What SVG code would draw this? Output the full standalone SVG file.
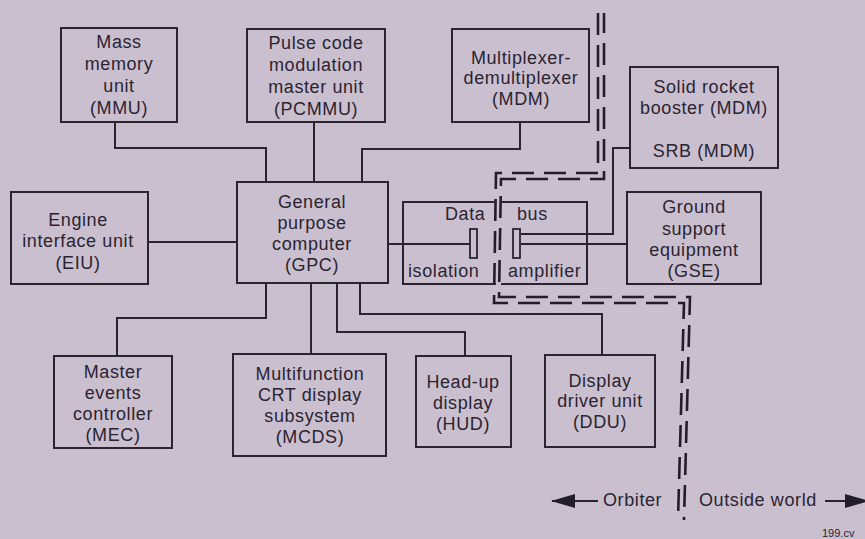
<svg xmlns="http://www.w3.org/2000/svg" width="865" height="539" viewBox="0 0 865 539">
<defs>
<style>
.bx{fill:none;stroke:#2a2430;stroke-width:2}
.ln{fill:none;stroke:#2a2430;stroke-width:2}
.bar{fill:none;stroke:#2a2430;stroke-width:1.8}
.dl{fill:none;stroke:#231d29;stroke-width:2.6;stroke-dasharray:22 10}
text{font-family:"Liberation Sans",Arial,sans-serif;font-size:18px;letter-spacing:0.6px;fill:#2a2430}
.c{text-anchor:middle}
.sm{font-size:11px;letter-spacing:0}
</style>
<marker id="ah" markerWidth="24" markerHeight="14" refX="23" refY="7" orient="auto" markerUnits="userSpaceOnUse">
<path d="M0,0 L24,7 L0,14 Z" fill="#231d29"/>
</marker>
</defs>
<rect width="865" height="539" fill="#cabfcf"/>

<g id="connectors">
<path class="ln" d="M115,122 V148 H266 V182"/>
<path class="ln" d="M314,122 V182"/>
<path class="ln" d="M362,182 V149 H520 V122"/>
<path class="ln" d="M148,242 H237"/>
<path class="ln" d="M388,244 H470"/>
<path class="ln" d="M521,234 H613 V148 H630"/>
<path class="ln" d="M521,244 H627"/>
<path class="ln" d="M266,283 V318 H117 V356"/>
<path class="ln" d="M311,283 V354"/>
<path class="ln" d="M337,283 V332 H465 V356"/>
<path class="ln" d="M360,283 V314 H602 V355"/>
</g>

<g id="boundary">
<path class="dl" d="M598,13 V173 H496 L494,303 H684 L678,520"/>
<path class="dl" style="stroke-dashoffset:2" d="M604,13 V179 H501 L499,297 H690 L684,520"/>
</g>

<g id="mmu">
<rect class="bx" x="61" y="28" width="116" height="94"/>
<text class="c" x="119" y="48">Mass</text>
<text class="c" x="119" y="70">memory</text>
<text class="c" x="119" y="92">unit</text>
<text class="c" x="119" y="114">(MMU)</text>
</g>

<g id="pcmmu">
<rect class="bx" x="247" y="29" width="138" height="93"/>
<text class="c" x="316" y="49">Pulse code</text>
<text class="c" x="316" y="71">modulation</text>
<text class="c" x="316" y="93">master unit</text>
<text class="c" x="316" y="115">(PCMMU)</text>
</g>

<g id="mdm">
<rect class="bx" x="452" y="29" width="137" height="93"/>
<text class="c" x="521" y="64">Multiplexer-</text>
<text class="c" x="521" y="84">demultiplexer</text>
<text class="c" x="521" y="105">(MDM)</text>
</g>

<g id="srb">
<rect class="bx" x="630" y="67" width="148" height="101"/>
<text class="c" x="704" y="93">Solid rocket</text>
<text class="c" x="704" y="114">booster (MDM)</text>
<text class="c" x="704" y="157">SRB (MDM)</text>
</g>

<g id="eiu">
<rect class="bx" x="11" y="192" width="137" height="92"/>
<text class="c" x="78" y="226">Engine</text>
<text class="c" x="78" y="247">interface unit</text>
<text class="c" x="78" y="269">(EIU)</text>
</g>

<g id="gpc">
<rect class="bx" x="237" y="182" width="151" height="101"/>
<text class="c" x="312" y="208">General</text>
<text class="c" x="312" y="229">purpose</text>
<text class="c" x="312" y="250">computer</text>
<text class="c" x="312" y="271">(GPC)</text>
</g>

<g id="databus">
<path class="bx" d="M496,202 H403 V284 H496"/>
<path class="bx" d="M501,202 H587 V284 H501"/>
<rect class="bar" x="470" y="229" width="7" height="29"/>
<rect class="bar" x="513" y="229" width="7" height="29"/>
<text x="445" y="220">Data</text>
<text x="517" y="220">bus</text>
<text x="408" y="277">isolation</text>
<text x="508" y="277">amplifier</text>
</g>

<g id="gse">
<rect class="bx" x="627" y="192" width="134" height="92"/>
<text class="c" x="694" y="213">Ground</text>
<text class="c" x="694" y="235">support</text>
<text class="c" x="694" y="256">equipment</text>
<text class="c" x="694" y="277">(GSE)</text>
</g>

<g id="mec">
<rect class="bx" x="54" y="356" width="118" height="92"/>
<text class="c" x="113" y="378">Master</text>
<text class="c" x="113" y="399">events</text>
<text class="c" x="113" y="420">controller</text>
<text class="c" x="113" y="441">(MEC)</text>
</g>

<g id="mcds">
<rect class="bx" x="233" y="354" width="153" height="102"/>
<text class="c" x="310" y="380">Multifunction</text>
<text class="c" x="310" y="401">CRT display</text>
<text class="c" x="310" y="422">subsystem</text>
<text class="c" x="310" y="443">(MCDS)</text>
</g>

<g id="hud">
<rect class="bx" x="416" y="356" width="95" height="91"/>
<text class="c" x="463" y="388">Head-up</text>
<text class="c" x="463" y="409">display</text>
<text class="c" x="463" y="430">(HUD)</text>
</g>

<g id="ddu">
<rect class="bx" x="545" y="355" width="110" height="92"/>
<text class="c" x="600" y="387">Display</text>
<text class="c" x="600" y="407">driver unit</text>
<text class="c" x="600" y="428">(DDU)</text>
</g>

<g id="legend">
<path class="ln" d="M598,501 H552" marker-end="url(#ah)"/>
<text x="603" y="506">Orbiter</text>
<text x="699" y="506">Outside world</text>
<path class="ln" d="M825,501 H868" marker-end="url(#ah)"/>
<text class="sm" x="822" y="537">199.cv</text>
</g>
</svg>
